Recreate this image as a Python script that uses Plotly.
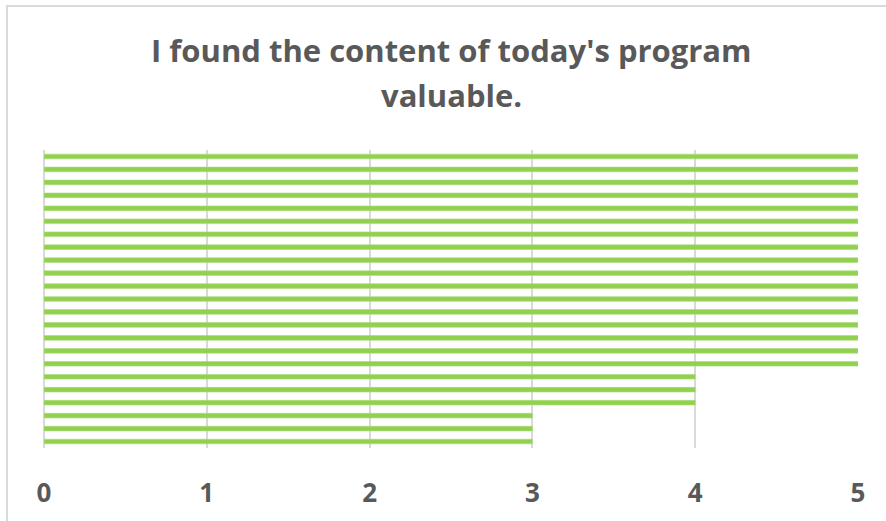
import plotly.graph_objects as go

# Responses listed bottom to top (23 respondents)
respondents = [f"R{i}" for i in range(1, 24)]
scores = [3, 3, 3, 4, 4, 4] + [5] * 17
x_ticks = [0, 1, 2, 3, 4, 5]
title_lines = ["I found the content of today's program", "valuable."]

W, H = 886, 521
# plot area in page pixels: x 44..858, y 150..448
L, R, T, B = 44, W - 858, 150, H - 448
pw, ph = W - L - R, H - T - B

def px_x(p):
    return (p - L) / pw

def px_y(p):
    return (H - B - p) / ph

fig = go.Figure()
fig.add_trace(go.Bar(
    y=respondents, x=scores, orientation="h",
    marker=dict(color="#92D050", line=dict(width=0.6, color="#A9DC7A")),
    hoverinfo="x",
))

fig.update_layout(
    width=W, height=H,
    margin=dict(l=L, r=R, t=T, b=B, pad=0),
    paper_bgcolor="white", plot_bgcolor="white",
    bargap=0.64,
    showlegend=False,
    font=dict(family="Open Sans", color="#595959"),
    xaxis=dict(
        range=[0, 5], tickvals=x_ticks, ticktext=[str(v) for v in x_ticks],
        showgrid=True, gridcolor="#D9D9D9", gridwidth=2,
        zeroline=True, zerolinecolor="#D9D9D9", zerolinewidth=2,
        showline=False, ticks="",
        tickfont=dict(family="Open Sans", size=26, color="#595959", weight="bold"),
        ticklabelstandoff=27,
        fixedrange=True,
    ),
    yaxis=dict(
        showticklabels=False, showgrid=False, zeroline=False, showline=False,
        ticks="", fixedrange=True,
    ),
    shapes=[dict(
        type="rect", xref="paper", yref="paper",
        x0=px_x(7), x1=px_x(900), y0=px_y(540), y1=px_y(6),
        line=dict(color="#D9D9D9", width=2), fillcolor="rgba(0,0,0,0)",
        layer="below",
    )],
    annotations=[
        dict(text=title_lines[0], xref="paper", yref="paper",
             x=px_x(451), y=px_y(50), xanchor="center", yanchor="middle",
             showarrow=False,
             font=dict(family="Open Sans", size=31, color="#595959", weight="bold")),
        dict(text=title_lines[1], xref="paper", yref="paper",
             x=px_x(451), y=px_y(95), xanchor="center", yanchor="middle",
             showarrow=False,
             font=dict(family="Open Sans", size=31, color="#595959", weight="bold")),
    ],
)

fig.write_html("out.html", config={"displayModeBar": False},
               post_script="document.body.style.margin='0';")
